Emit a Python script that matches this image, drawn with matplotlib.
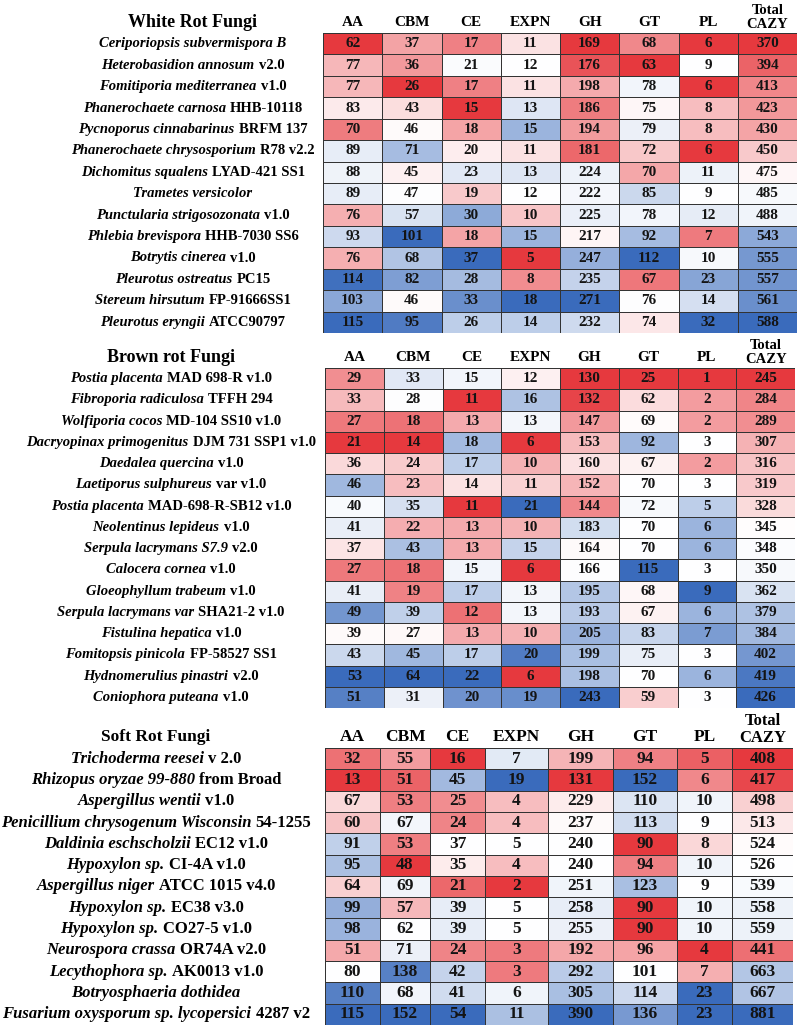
import numpy as np
import matplotlib
matplotlib.use('Agg')
import matplotlib.pyplot as plt
import matplotlib.transforms as mtransforms
from matplotlib.colors import LinearSegmentedColormap, TwoSlopeNorm
from matplotlib.offsetbox import TextArea, HPacker, AnnotationBbox

# column headers shared by the three tables
columns = ['AA', 'CBM', 'CE', 'EXPN', 'GH', 'GT', 'PL', 'Total\nCAZY']

# White rot fungi
white_italic = ['Ceriporiopsis subvermispora B', 'Heterobasidion annosum', 'Fomitiporia mediterranea',
                'Phanerochaete carnosa', 'Pycnoporus cinnabarinus', 'Phanerochaete chrysosporium',
                'Dichomitus squalens', 'Trametes versicolor', 'Punctularia strigosozonata',
                'Phlebia brevispora', 'Botrytis cinerea', 'Pleurotus ostreatus',
                'Stereum hirsutum', 'Pleurotus eryngii']
white_strain = ['', 'v2.0', 'v1.0', 'HHB-10118', 'BRFM 137', 'R78 v2.2', 'LYAD-421 SS1', '',
                'v1.0', 'HHB-7030 SS6', 'v1.0', 'PC15', 'FP-91666SS1', 'ATCC90797']
white_values = [
    [62, 37, 17, 11, 169, 68, 6, 370],
    [77, 36, 21, 12, 176, 63, 9, 394],
    [77, 26, 17, 11, 198, 78, 6, 413],
    [83, 43, 15, 13, 186, 75, 8, 423],
    [70, 46, 18, 15, 194, 79, 8, 430],
    [89, 71, 20, 11, 181, 72, 6, 450],
    [88, 45, 23, 13, 224, 70, 11, 475],
    [89, 47, 19, 12, 222, 85, 9, 485],
    [76, 57, 30, 10, 225, 78, 12, 488],
    [93, 101, 18, 15, 217, 92, 7, 543],
    [76, 68, 37, 5, 247, 112, 10, 555],
    [114, 82, 28, 8, 235, 67, 23, 557],
    [103, 46, 33, 18, 271, 76, 14, 561],
    [115, 95, 26, 14, 232, 74, 32, 588],
]

# Brown rot fungi
brown_italic = ['Postia placenta', 'Fibroporia radiculosa', 'Wolfiporia cocos',
                'Dacryopinax primogenitus', 'Daedalea quercina', 'Laetiporus sulphureus',
                'Postia placenta', 'Neolentinus lepideus', 'Serpula lacrymans S7.9',
                'Calocera cornea', 'Gloeophyllum trabeum', 'Serpula lacrymans var',
                'Fistulina hepatica', 'Fomitopsis pinicola', 'Hydnomerulius pinastri',
                'Coniophora puteana']
brown_strain = ['MAD 698-R v1.0', 'TFFH 294', 'MD-104 SS10 v1.0', 'DJM 731 SSP1 v1.0', 'v1.0',
                'var v1.0', 'MAD-698-R-SB12 v1.0', 'v1.0', 'v2.0', 'v1.0', 'v1.0',
                'SHA21-2 v1.0', 'v1.0', 'FP-58527 SS1', 'v2.0', 'v1.0']
brown_values = [
    [29, 33, 15, 12, 130, 25, 1, 245],
    [33, 28, 11, 16, 132, 62, 2, 284],
    [27, 18, 13, 13, 147, 69, 2, 289],
    [21, 14, 18, 6, 153, 92, 3, 307],
    [36, 24, 17, 10, 160, 67, 2, 316],
    [46, 23, 14, 11, 152, 70, 3, 319],
    [40, 35, 11, 21, 144, 72, 5, 328],
    [41, 22, 13, 10, 183, 70, 6, 345],
    [37, 43, 13, 15, 164, 70, 6, 348],
    [27, 18, 15, 6, 166, 115, 3, 350],
    [41, 19, 17, 13, 195, 68, 9, 362],
    [49, 39, 12, 13, 193, 67, 6, 379],
    [39, 27, 13, 10, 205, 83, 7, 384],
    [43, 45, 17, 20, 199, 75, 3, 402],
    [53, 64, 22, 6, 198, 70, 6, 419],
    [51, 31, 20, 19, 243, 59, 3, 426],
]

# Soft rot fungi
soft_italic = ['Trichoderma reesei', 'Rhizopus oryzae 99-880', 'Aspergillus wentii',
               'Penicillium chrysogenum Wisconsin', 'Daldinia eschscholzii', 'Hypoxylon sp.',
               'Aspergillus niger', 'Hypoxylon sp.', 'Hypoxylon sp.', 'Neurospora crassa',
               'Lecythophora sp.', 'Botryosphaeria dothidea', 'Fusarium oxysporum sp. lycopersici']
soft_strain = ['v 2.0', 'from Broad', 'v1.0', '54-1255', 'EC12 v1.0', 'CI-4A v1.0',
               'ATCC 1015 v4.0', 'EC38 v3.0', 'CO27-5 v1.0', 'OR74A v2.0', 'AK0013 v1.0',
               '', '4287 v2']
soft_values = [
    [32, 55, 16, 7, 199, 94, 5, 408],
    [13, 51, 45, 19, 131, 152, 6, 417],
    [67, 53, 25, 4, 229, 110, 10, 498],
    [60, 67, 24, 4, 237, 113, 9, 513],
    [91, 53, 37, 5, 240, 90, 8, 524],
    [95, 48, 35, 4, 240, 94, 10, 526],
    [64, 69, 21, 2, 251, 123, 9, 539],
    [99, 57, 39, 5, 258, 90, 10, 558],
    [98, 62, 39, 5, 255, 90, 10, 559],
    [51, 71, 24, 3, 192, 96, 4, 441],
    [80, 138, 42, 3, 292, 101, 7, 663],
    [110, 68, 41, 6, 305, 114, 23, 667],
    [115, 152, 54, 11, 390, 136, 23, 881],
]

W, H = 800, 1030
SERIF = 'Liberation Serif'
cmap = LinearSegmentedColormap.from_list('rwb', ['#E6393E', '#FFFFFF', '#3A6BBC'])

fig = plt.figure(figsize=(W / 100, H / 100), dpi=100)
fig.patch.set_facecolor('white')


def draw_panel(title, italic, strain, values, grid_px, col_widths, label_cx,
               fs_label, fs_num, fs_head, fs_title):
    # grid_px = (left, top, right, bottom) in pixels
    left, top, right, bottom = grid_px
    ax = fig.add_axes([left / W, 1 - bottom / H, (right - left) / W, (bottom - top) / H])
    vals = np.array(values, dtype=float)
    nrow, ncol = vals.shape
    xedges = np.concatenate([[0], np.cumsum(col_widths)])
    yedges = np.arange(nrow + 1)

    # Excel style 3-colour scale, one per column: min red, median white, max blue
    for j in range(ncol):
        col = vals[:, j]
        norm = TwoSlopeNorm(vcenter=np.median(col), vmin=col.min(), vmax=col.max())
        ax.pcolormesh(xedges[j:j + 2], yedges, col[:, None], cmap=cmap, norm=norm,
                      edgecolors='#333333', linewidth=0.6)
        xc = (xedges[j] + xedges[j + 1]) / 2
        for i in range(nrow):
            ax.text(xc, i + 0.5, str(int(vals[i, j])), ha='center', va='center',
                    family=SERIF, fontweight='bold', fontsize=fs_num, color='#141414')
        if '\n' in columns[j]:
            ax.text(xc, -0.1, columns[j], ha='center', va='bottom', family=SERIF,
                    fontweight='bold', fontsize=fs_head - 0.5, linespacing=1.05)
        else:
            ax.text(xc, -0.5, columns[j], ha='center', va='center', family=SERIF,
                    fontweight='bold', fontsize=fs_head)

    ax.set_xlim(xedges[0], xedges[-1])
    ax.set_ylim(nrow, 0)
    ax.set_axis_off()

    # title and species labels, centred in the left column
    trans = mtransforms.blended_transform_factory(fig.transFigure, ax.transData)
    ax.text(label_cx / W, -0.5, title, transform=trans, ha='center', va='center',
            family=SERIF, fontweight='bold', fontsize=fs_title)
    for i in range(nrow):
        parts = [TextArea(italic[i], textprops=dict(family=SERIF, fontweight='bold',
                                                    fontstyle='italic', fontsize=fs_label))]
        if strain[i]:
            parts.append(TextArea(strain[i], textprops=dict(family=SERIF, fontweight='bold',
                                                            fontsize=fs_label)))
        box = HPacker(children=parts, align='baseline', pad=0, sep=3)
        ab = AnnotationBbox(box, (label_cx / W, i + 0.5),
                            xycoords=('figure fraction', 'data'),
                            box_alignment=(0.5, 0.5), frameon=False, pad=0,
                            annotation_clip=False)
        ax.add_artist(ab)
    return ax


draw_panel('White Rot Fungi', white_italic, white_strain, white_values,
           (323, 33, 797, 333), [1] * 8, 193, 10.5, 11, 11, 13)
draw_panel('Brown rot Fungi', brown_italic, brown_strain, brown_values,
           (325, 368, 795, 708), [1] * 8, 171, 10.5, 11, 11, 13)
draw_panel('Soft Rot Fungi', soft_italic, soft_strain, soft_values,
           (325, 748, 793, 1025), [55, 50, 55, 63, 65, 64, 55, 61], 156, 12, 12.5, 12.5, 12.5)

fig.savefig('out.png', dpi=100)
